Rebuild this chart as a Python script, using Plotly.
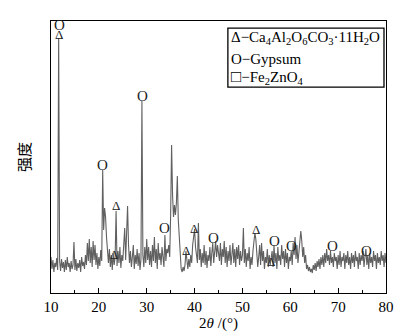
import numpy as np
import plotly.graph_objects as go

# XRD intensity (arbitrary units) sampled every 0.2 deg from 10 to 80 deg 2theta
intensity = [
    18, 6, 15, 3, 12,      # 10
    8, 17, 5, 237, 14,     # 11
    4, 16, 7, 13, 3,       # 12
    15, 5, 18, 8, 12,      # 13
    3, 14, 6, 10, 33,      # 14
    5, 16, 4, 12, 7,       # 15
    15, 3, 18, 9, 13,      # 16
    6, 20, 10, 32, 14,     # 17
    36, 12, 28, 8, 34,     # 18
    15, 30, 10, 22, 6,     # 19
    18, 9, 25, 14, 105,    # 20
    45, 67, 58, 38, 24,    # 21
    12, 26, 8, 20, 5,      # 22
    22, 10, 18, 64, 9,     # 23
    24, 12, 28, 7, 20,     # 24
    14, 30, 47, 15, 55,    # 25
    69, 30, 12, 24, 8,     # 26
    18, 30, 6, 20, 11,     # 27
    26, 9, 22, 5, 16,      # 28
    174, 20, 8, 28, 12,    # 29
    36, 15, 28, 10, 24,    # 30
    8, 30, 14, 38, 12,     # 31
    26, 6, 32, 15, 22,     # 32
    10, 28, 18, 8, 40,     # 33
    14, 26, 22, 30, 18,    # 34
    60, 130, 80, 58, 70,   # 35
    60, 72, 99, 55, 38,    # 36
    18, 6, 3, 8, 4,        # 37
    10, 24, 14, 6, 16,     # 38
    8, 20, 12, 30, 42,     # 39
    46, 28, 20, 12, 52,    # 40
    15, 26, 8, 22, 12,     # 41
    30, 10, 24, 7, 20,     # 42
    14, 28, 9, 22, 32,     # 43
    12, 26, 34, 18, 30,    # 44
    22, 14, 32, 10, 26,    # 45
    18, 34, 12, 28, 8,     # 46
    24, 14, 30, 10, 20,    # 47
    32, 12, 26, 8, 28,     # 48
    16, 30, 10, 24, 14,    # 49
    20, 47, 12, 26, 8,     # 50
    22, 14, 28, 6, 18,     # 51
    10, 24, 38, 42, 36,    # 52
    22, 8, 18, 30, 10,     # 53
    32, 14, 24, 6, 18,     # 54
    12, 26, 8, 20, 10,     # 55
    16, 24, 8, 30, 12,     # 56
    22, 6, 28, 14, 20,     # 57
    10, 30, 16, 24, 8,     # 58
    26, 12, 22, 6, 18,     # 59
    14, 24, 10, 32, 20,    # 60
    38, 16, 30, 12, 26,    # 61
    40, 44, 34, 18, 28,    # 62
    12, 20, 6, 10, 4,      # 63
    8, 3, 6, 2, 10,        # 64
    5, 12, 4, 14, 8,       # 65
    16, 6, 18, 10, 20,     # 66
    8, 22, 12, 26, 14,     # 67
    20, 10, 24, 12, 18,    # 68
    8, 22, 14, 18, 6,      # 69
    20, 10, 24, 8, 18,     # 70
    14, 22, 6, 20, 12,     # 71
    24, 10, 18, 6, 22,     # 72
    12, 20, 8, 24, 14,     # 73
    18, 6, 22, 10, 20,     # 74
    14, 24, 8, 18, 26,     # 75
    10, 20, 6, 22, 12,     # 76
    18, 8, 24, 14, 20,     # 77
    6, 22, 12, 18, 10,     # 78
    24, 14, 20, 8, 22,     # 79
    12,                    # 80
]
two_theta = np.round(10 + 0.2 * np.arange(len(intensity)), 1)

# phase markers: (2theta, label height, symbol)
marker_x = [11.8, 11.6, 20.8, 23.5, 23.1, 29.2, 33.8, 38.2, 39.9, 44.0, 52.8, 56.0, 56.8, 60.2, 68.9, 76.0]
marker_y = [250, 241, 110, 70, 21, 179, 47, 25, 47, 37, 46, 14, 34, 29, 29, 24]
marker_s = ["O", "Δ", "O", "Δ", "Δ", "O", "O", "Δ", "Δ", "O", "Δ", "Δ", "O", "O", "O", "O"]

x_ticks = [10, 20, 30, 40, 50, 60, 70, 80]
legend_lines = [
    "Δ−Ca<sub>4</sub>Al<sub>2</sub>O<sub>6</sub>CO<sub>3</sub>·11H<sub>2</sub>O",
    "O−Gypsum",
    "<span style='font-size:17px'>□</span>−Fe<sub>2</sub>ZnO<sub>4</sub>",
]

SERIF = "Liberation Serif"

fig = go.Figure()
fig.add_trace(go.Scatter(
    x=two_theta, y=intensity, mode="lines",
    line=dict(color="#606060", width=1.1),
    showlegend=False, hoverinfo="skip",
))

for mx, my, ms in zip(marker_x, marker_y, marker_s):
    fig.add_annotation(x=mx, y=my, text=ms, showarrow=False,
                       font=dict(family=SERIF, size=15 if ms == "O" else 13, color="#222"),
                       xanchor="center", yanchor="middle")

# legend box
fig.add_shape(type="rect", xref="paper", yref="paper",
              x0=0.528, x1=0.994, y0=0.757, y1=0.974,
              line=dict(color="black", width=1.3), fillcolor="white")
for i, (txt, yy) in enumerate(zip(legend_lines, [0.9375, 0.862, 0.795])):
    fig.add_annotation(xref="paper", yref="paper", x=0.531, y=yy, text=txt,
                       showarrow=False, xanchor="left", yanchor="middle",
                       font=dict(family=SERIF, size=15, color="black"))

fig.update_layout(
    width=404, height=334,
    margin=dict(l=43, r=26, t=13, b=49),
    paper_bgcolor="white", plot_bgcolor="white",
    font=dict(family=SERIF, color="black"),
    xaxis=dict(
        range=[10, 80], tickvals=x_ticks, ticks="inside", ticklen=5, tickwidth=1.2,
        tickcolor="black", showline=True, linecolor="black", linewidth=1.3, mirror=True,
        showgrid=False, zeroline=False, tickfont=dict(family=SERIF, size=15),
        minor=dict(tickvals=[15, 25, 35, 45, 55, 65, 75], ticks="inside", ticklen=3,
                   tickcolor="black"),
        title=dict(text="2<i>θ</i> /(°)", font=dict(family=SERIF, size=15), standoff=0),
    ),
    yaxis=dict(
        range=[-18, 254], showticklabels=False, ticks="", showgrid=False, zeroline=False,
        showline=True, linecolor="black", linewidth=1.3, mirror=True,
        title=dict(text="强度", font=dict(family="Noto Sans CJK SC", size=15), standoff=15),
    ),
)

fig.write_html("out.html")
